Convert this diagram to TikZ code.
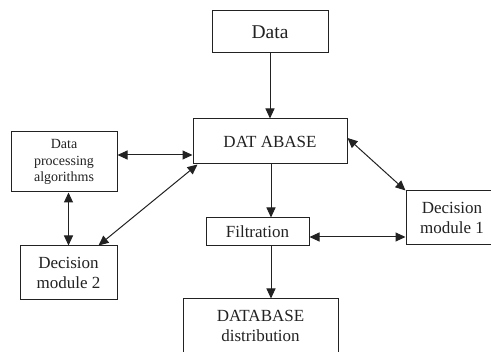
\documentclass[tikz,border=0pt]{standalone}
\usepackage{fontspec}
\setmainfont{Liberation Serif}
\usetikzlibrary{arrows.meta}
\definecolor{ink}{HTML}{222222}
\begin{document}
\begin{tikzpicture}[x=1pt,y=-1pt,
  >={Triangle[length=10pt,width=9pt]},
  box/.style={draw=ink, line width=1pt, fill=white, text=ink, inner sep=0pt,
    align=center, font=\fontsize{17}{19.5}\selectfont},
  link/.style={draw=ink, line width=1pt}]
\useasboundingbox (0,0) rectangle (491,352);
\clip (0,0) rectangle (491,352);

% boxes
\node[box, minimum width=116pt, minimum height=42pt,
  font=\fontsize{19.5}{22}\selectfont] (data) at (270,32) {Data};
\node[box, minimum width=154pt, minimum height=45pt] (db) at (270,141.5) {DAT ABASE};
\node[box, minimum width=106pt, minimum height=60pt,
  font=\fontsize{14}{16.5}\selectfont] (dpa) at (64,162) {Data\\processing\\algorithms};
\node[box, minimum width=97pt, minimum height=54pt] (dm2) at (68.5,273) {Decision\\module 2};
\node[box, minimum width=103pt, minimum height=28pt] (filt) at (257.5,232) {Filtration};
\node[box, minimum width=92pt, minimum height=54pt] (dm1) at (452,218) {Decision\\module 1};
\node[box, minimum width=155pt, minimum height=54pt] (dist) at (260.5,326) {DATABASE\\distribution};

% connectors
\draw[link,->] (data.south -| db.south) -- (db.north);
\draw[link,->] ([xshift=1pt]db.south) -- ([xshift=1pt]db.south |- filt.north);
\draw[link,->] ([xshift=1pt]db.south |- filt.south) -- ([xshift=1pt]db.south |- dist.north);
\draw[link,<->] ([yshift=7pt]dpa.east) -- ([yshift=7pt]dpa.east -| db.west);
\draw[link,<->] (dpa.south -| dm2.north) -- (dm2.north);
\draw[link,<->] ([xshift=-19pt]dm2.north east) -- ([xshift=5pt]db.south west);
\draw[link,<->] ([yshift=3.5pt]db.east) -- (dm1.north west);
\draw[link,<->] ([yshift=-5pt]filt.east) -- ([yshift=-5pt]filt.east -| dm1.west);
\end{tikzpicture}
\end{document}
